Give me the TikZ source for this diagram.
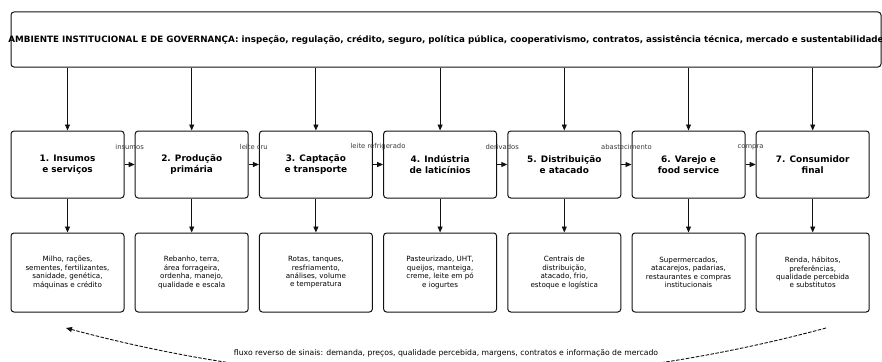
\documentclass[tikz,border=0pt]{standalone}
\usepackage{fontspec}
\setmainfont{DejaVu Sans}
\usetikzlibrary{arrows.meta}
\definecolor{labelgray}{HTML}{3A3A3A}
\definecolor{boxline}{HTML}{111111}

\begin{document}
\begin{tikzpicture}
[x=1pt, y=-1pt,
govbox/.style={draw=boxline, rounded corners=3pt, line width=1pt, minimum width=870pt, minimum height=55pt, inner sep=0pt},
govtext/.style={font=\fontsize{8.75}{10.5}\selectfont\bfseries, inner sep=0pt},
stage/.style={draw=boxline, rounded corners=3pt, line width=1pt, minimum width=113pt, minimum height=67pt, inner sep=0pt, align=center, font=\fontsize{8.9}{10.4}\selectfont\bfseries},
detail/.style={draw=boxline, rounded corners=3pt, line width=1pt, minimum width=113pt, minimum height=79pt, inner sep=0pt, align=center, font=\fontsize{7.15}{8.4}\selectfont},
flow/.style={-{Triangle[length=6pt,width=5pt]}, line width=0.9pt, boxline},
flowlabel/.style={font=\fontsize{6.8}{8}\selectfont, text=labelgray, inner sep=0pt, yshift=17.5pt},
feedback/.style={-{Triangle[length=6pt,width=5pt]}, line width=0.9pt, boxline, dash pattern=on 3.5pt off 1.5pt},
feedbacktext/.style={font=\fontsize{7.7}{9}\selectfont, inner sep=0pt}]
\useasboundingbox (0,0) rectangle (882,361);
\node[govbox] (governance) at (446,39.5) {};
\node[govtext] (governancetext) at (governance.center) {AMBIENTE INSTITUCIONAL E DE GOVERNANÇA: inspeção, regulação, crédito, seguro, política pública, cooperativismo, contratos, assistência técnica, mercado e sustentabilidade};
\node[stage] (stage1) at (67.5,164.5) {1. Insumos\\e serviços};
\node[stage] (stage2) at (191.7,164.5) {2. Produção\\primária};
\node[stage] (stage3) at (315.9,164.5) {3. Captação\\e transporte};
\node[stage] (stage4) at (440.1,164.5) {4. Indústria\\de laticínios};
\node[stage] (stage5) at (564.3,164.5) {5. Distribuição\\e atacado};
\node[stage] (stage6) at (688.5,164.5) {6. Varejo e\\food service};
\node[stage] (stage7) at (812.7,164.5) {7. Consumidor\\final};
\node[detail] (detail1) at (67.5,272.5) {Milho, rações,\\sementes, fertilizantes,\\sanidade, genética,\\máquinas e crédito};
\node[detail] (detail2) at (191.7,272.5) {Rebanho, terra,\\área forrageira,\\ordenha, manejo,\\qualidade e escala};
\node[detail] (detail3) at (315.9,272.5) {Rotas, tanques,\\resfriamento,\\análises, volume\\e temperatura};
\node[detail] (detail4) at (440.1,272.5) {Pasteurizado, UHT,\\queijos, manteiga,\\creme, leite em pó\\e iogurtes};
\node[detail] (detail5) at (564.3,272.5) {Centrais de\\distribuição,\\atacado, frio,\\estoque e logística};
\node[detail] (detail6) at (688.5,272.5) {Supermercados,\\atacarejos, padarias,\\restaurantes e compras\\institucionais};
\node[detail] (detail7) at (812.7,272.5) {Renda, hábitos,\\preferências,\\qualidade percebida\\e substitutos};
\draw[flow] (governance.south -| stage1.north) -- (stage1.north);
\draw[flow] (governance.south -| stage2.north) -- (stage2.north);
\draw[flow] (governance.south -| stage3.north) -- (stage3.north);
\draw[flow] (governance.south -| stage4.north) -- (stage4.north);
\draw[flow] (governance.south -| stage5.north) -- (stage5.north);
\draw[flow] (governance.south -| stage6.north) -- (stage6.north);
\draw[flow] (governance.south -| stage7.north) -- (stage7.north);
\draw[flow] (stage1.south) -- (detail1.north);
\draw[flow] (stage2.south) -- (detail2.north);
\draw[flow] (stage3.south) -- (detail3.north);
\draw[flow] (stage4.south) -- (detail4.north);
\draw[flow] (stage5.south) -- (detail5.north);
\draw[flow] (stage6.south) -- (detail6.north);
\draw[flow] (stage7.south) -- (detail7.north);
\draw[flow] (stage1.east) -- (stage2.west) node[flowlabel, midway] (label12) {insumos};
\draw[flow] (stage2.east) -- (stage3.west) node[flowlabel, midway] (label23) {leite cru};
\draw[flow] (stage3.east) -- (stage4.west) node[flowlabel, midway] (label34) {leite refrigerado};
\draw[flow] (stage4.east) -- (stage5.west) node[flowlabel, midway] (label45) {derivados};
\draw[flow] (stage5.east) -- (stage6.west) node[flowlabel, midway] (label56) {abastecimento};
\draw[flow] (stage6.east) -- (stage7.west) node[flowlabel, midway] (label67) {compra};
\coordinate (revstart) at (826,328);
\coordinate (revend) at (66,328);
\draw[feedback] (revstart) .. controls (572.7,396) and (319.3,396) .. (revend);
\node[feedbacktext] (feedbacklabel) at (446,353) {fluxo reverso de sinais: demanda, preços, qualidade percebida, margens, contratos e informação de mercado};
\end{tikzpicture}
\end{document}
